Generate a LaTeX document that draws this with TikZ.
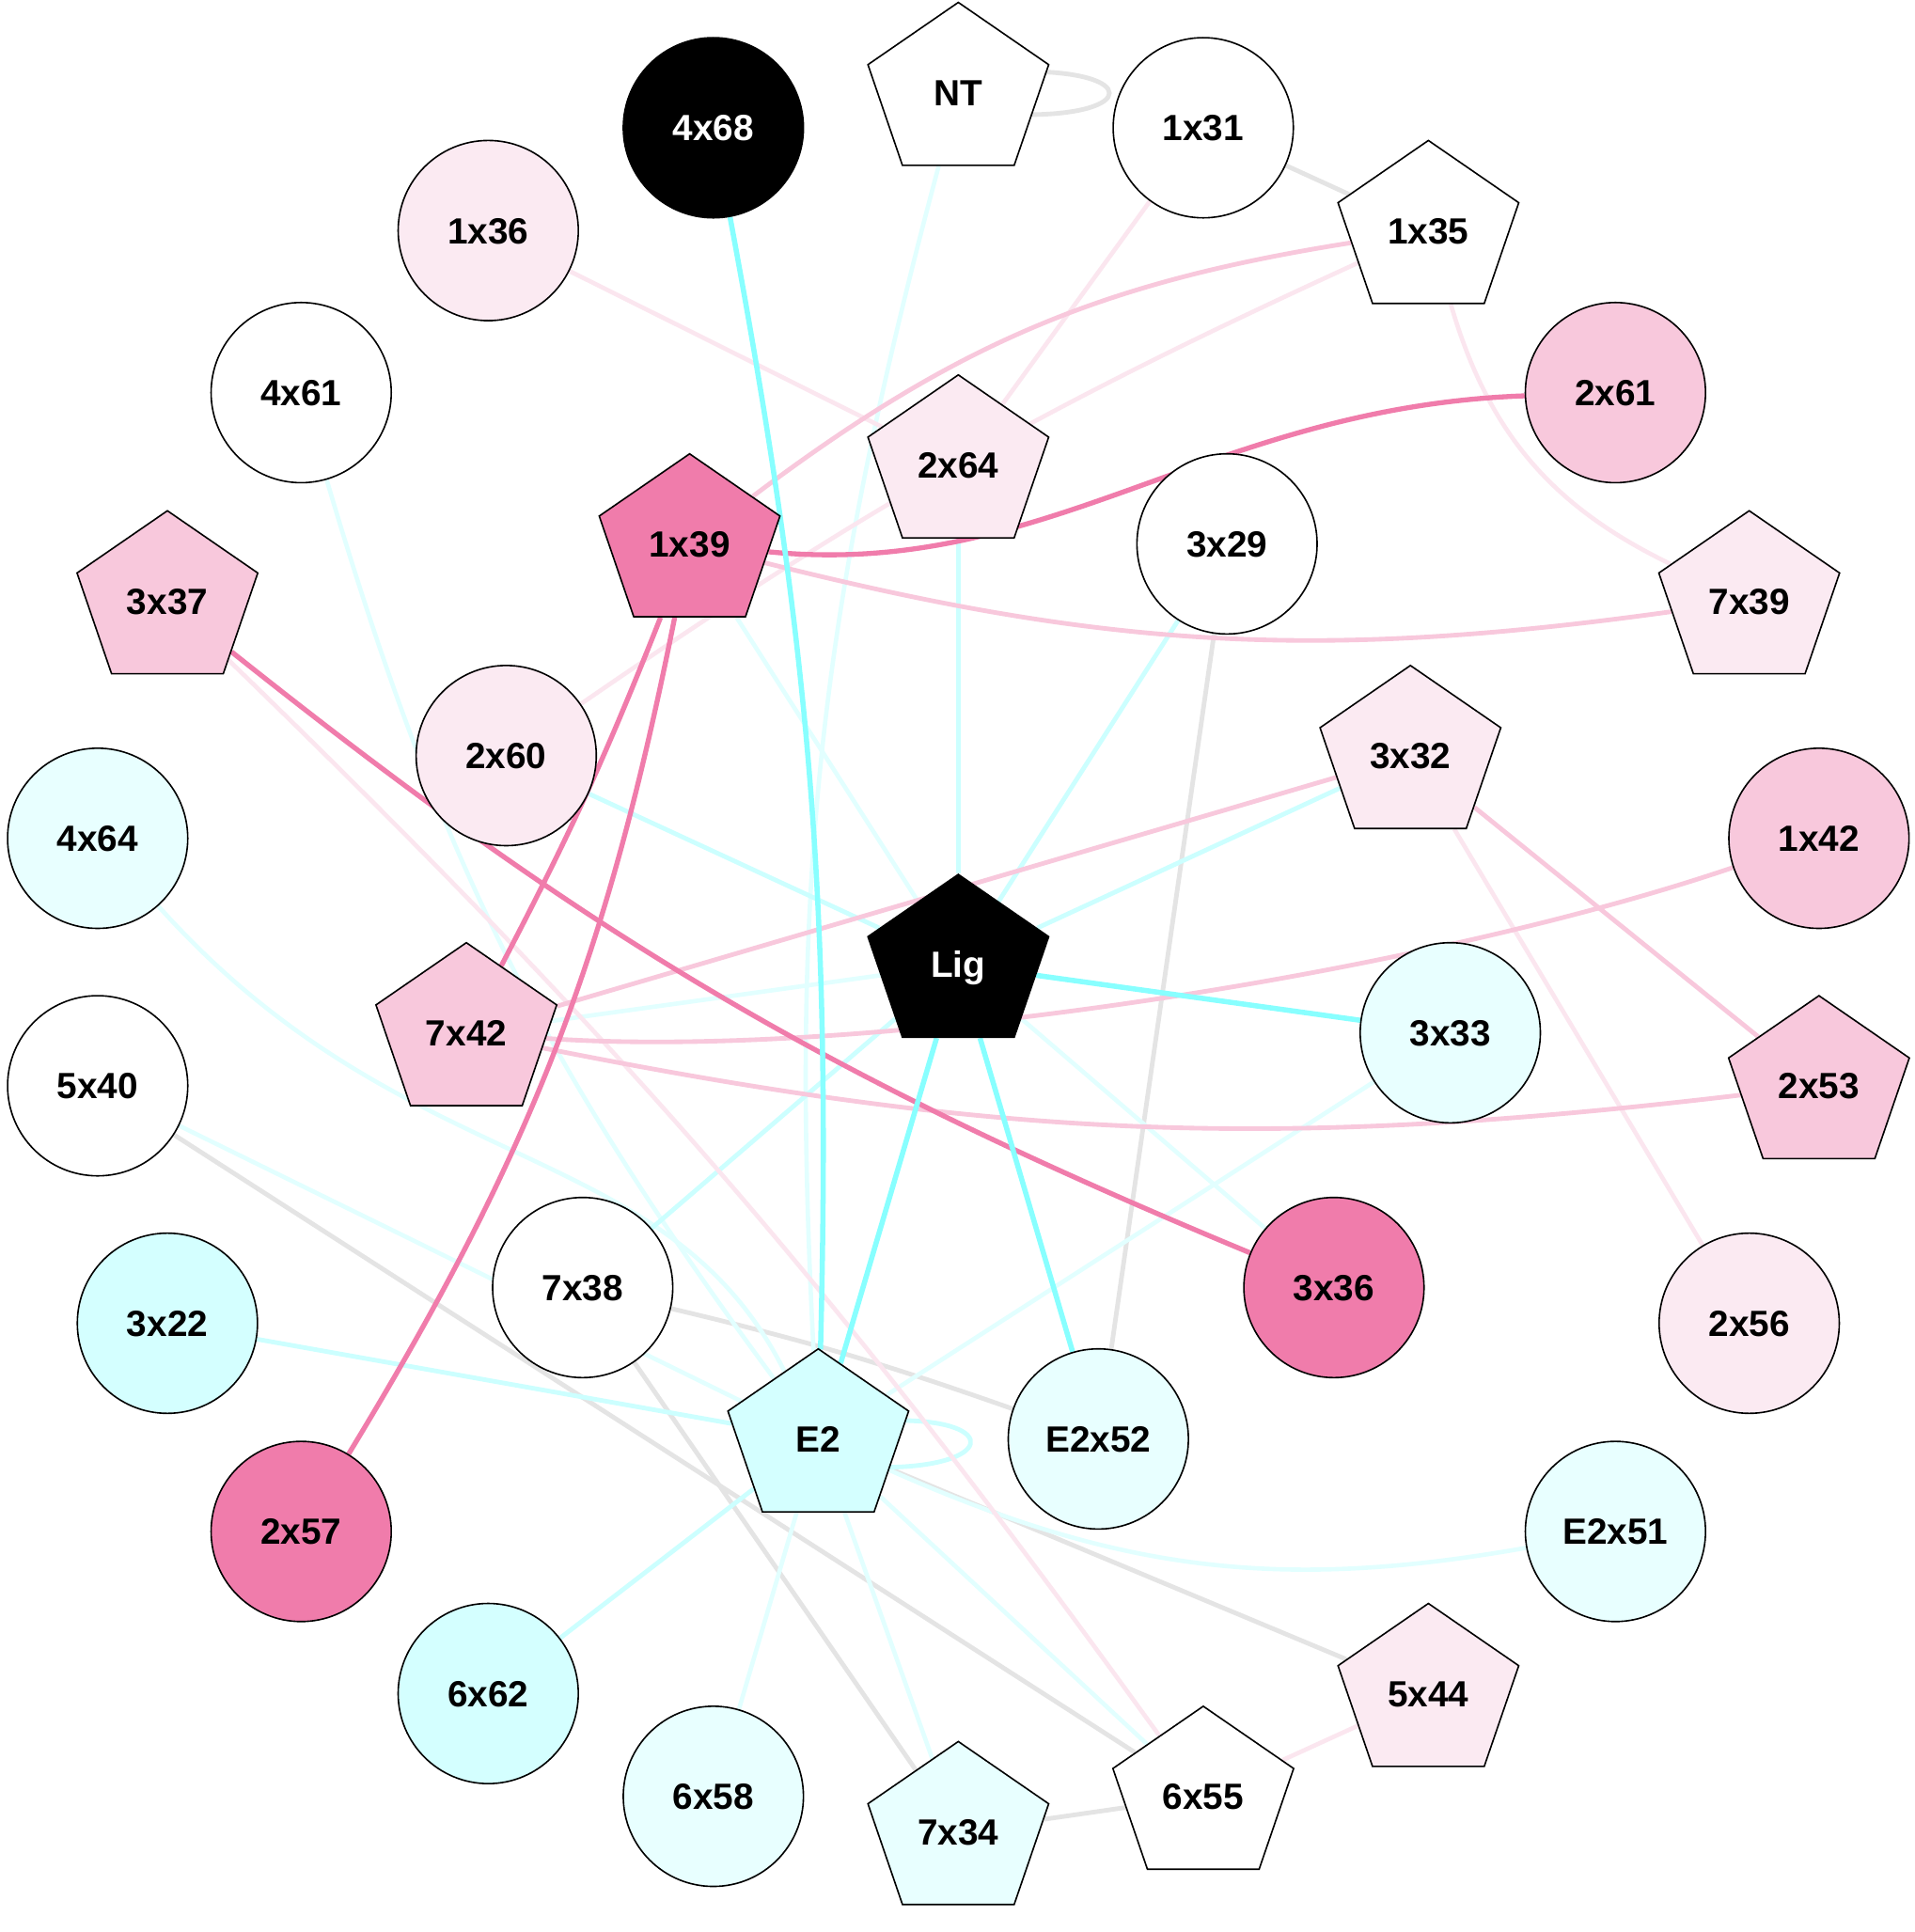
\documentclass[tikz,border=0pt]{standalone}
\usepackage{fontspec}
\setmainfont{Liberation Sans}
\usetikzlibrary{shapes.geometric,backgrounds}
\definecolor{hotpink}{HTML}{F07CAB}
\definecolor{pinkB}{HTML}{F8C8DC}
\definecolor{pinkL}{HTML}{FBEAF2}
\definecolor{cyanB}{HTML}{D4FFFF}
\definecolor{cyanL}{HTML}{E8FFFF}
\definecolor{ecS}{HTML}{88FFFF}
\definecolor{ecM}{HTML}{CCFFFF}
\definecolor{ecL}{HTML}{E2FFFF}
\definecolor{egray}{HTML}{E4E4E4}
\definecolor{epH}{HTML}{F07CAB}
\definecolor{epM}{HTML}{F8C8DC}
\definecolor{epL}{HTML}{FBE6EF}
\newcommand{\lblfont}{\bfseries\fontsize{8.4}{10}\selectfont}
\tikzset{
  cnode/.style={circle, draw=black, line width=0.35pt, minimum size=1.46cm, inner sep=0pt},
  pnode/.style={regular polygon, regular polygon sides=5, draw=black, line width=0.35pt, minimum size=1.54cm, inner sep=0pt, yscale=0.948},
  lbl/.style={font=\lblfont, inner sep=0pt, anchor=base, yshift=-0.106cm},
  eS/.style={draw=ecS, line width=1.2pt},
  eM/.style={draw=ecM, line width=1.05pt},
  eL/.style={draw=ecL, line width=1.0pt},
  eG/.style={draw=egray, line width=1.05pt},
  pH/.style={draw=epH, line width=1.15pt},
  pM/.style={draw=epM, line width=1.05pt},
  pL/.style={draw=epL, line width=1.0pt}
}
\newcommand{\circN}[4]{\node[cnode, fill=#3] (#1) at #2 {}; \node[lbl] at (#1.center) {#4};}
\newcommand{\pentN}[4]{\begin{scope}[shift={#2}]\node[pnode, fill=#3] (#1) at (0,0) {};\end{scope}\node[lbl] at (#1.center) {#4};}
\begin{document}
\begin{tikzpicture}[x=0.01cm, y=0.01cm]
\useasboundingbox (-777,-786.4) rectangle (775,780);
% outer ring
\pentN{nNT}{(90:705)}{white}{NT}
\circN{n4x68}{({90+1*360/22}:705)}{black}{\textcolor{white}{4x68}}
\circN{n1x36}{({90+2*360/22}:705)}{pinkL}{1x36}
\circN{n4x61}{({90+3*360/22}:705)}{white}{4x61}
\pentN{n3x37}{({90+4*360/22}:705)}{pinkB}{3x37}
\circN{n4x64}{({90+5*360/22}:705)}{cyanL}{4x64}
\circN{n5x40}{({90+6*360/22}:705)}{white}{5x40}
\circN{n3x22}{({90+7*360/22}:705)}{cyanB}{3x22}
\circN{n2x57}{({90+8*360/22}:705)}{hotpink}{2x57}
\circN{n6x62}{({90+9*360/22}:705)}{cyanB}{6x62}
\circN{n6x58}{({90+10*360/22}:705)}{cyanL}{6x58}
\pentN{n7x34}{({90+11*360/22}:705)}{cyanL}{7x34}
\pentN{n6x55}{({90+12*360/22}:705)}{white}{6x55}
\pentN{n5x44}{({90+13*360/22}:705)}{pinkL}{5x44}
\circN{nE2x51}{({90+14*360/22}:705)}{cyanL}{E2x51}
\circN{n2x56}{({90+15*360/22}:705)}{pinkL}{2x56}
\pentN{n2x53}{({90+16*360/22}:705)}{pinkB}{2x53}
\circN{n1x42}{({90+17*360/22}:705)}{pinkB}{1x42}
\pentN{n7x39}{({90+18*360/22}:705)}{pinkL}{7x39}
\circN{n2x61}{({90+19*360/22}:705)}{pinkB}{2x61}
\pentN{n1x35}{({90+20*360/22}:705)}{white}{1x35}
\circN{n1x31}{({90+21*360/22}:705)}{white}{1x31}
% inner ring
\pentN{n2x64}{(90:403)}{pinkL}{2x64}
\pentN{n1x39}{({90+1*360/11}:403)}{hotpink}{1x39}
\circN{n2x60}{({90+2*360/11}:403)}{pinkL}{2x60}
\pentN{n7x42}{({90+3*360/11}:403)}{pinkB}{7x42}
\circN{n7x38}{({90+4*360/11}:403)}{white}{7x38}
\pentN{nE2}{({90+5*360/11}:403)}{cyanB}{E2}
\circN{nE2x52}{({90+6*360/11}:403)}{cyanL}{E2x52}
\circN{n3x36}{({90+7*360/11}:403)}{hotpink}{3x36}
\circN{n3x33}{({90+8*360/11}:403)}{cyanL}{3x33}
\pentN{n3x32}{({90+9*360/11}:403)}{pinkL}{3x32}
\circN{n3x29}{({90+10*360/11}:403)}{white}{3x29}
% centre
\pentN{nLig}{(0,-2)}{black}{\textcolor{white}{Lig}}

\begin{pgfonlayer}{background}
\fill[white] (-777,-786.4) rectangle (775,780);
% gray
\draw[eG] ([shift={(55,17)}]nNT.center) .. controls +(90,0) and +(90,0) .. ([shift={(55,-18)}]nNT.center);
\draw[eG] (n1x31) -- (n1x35);
\draw[eG] (n3x29) -- (nE2x52);
\draw[eG] (n5x40) -- (n6x55);
\draw[eG] (n7x38) to[bend left=3] (nE2x52);
\draw[eG] (n7x38) -- (n7x34);
\draw[eG] (nE2) -- (n5x44);
\draw[eG] (n6x55) -- (n7x34);
% light cyan
\draw[eL] (nNT) to[bend right=9] (nE2);
\draw[eL] (n1x39) -- (nLig);
\draw[eL] (nLig) -- (n7x42);
\draw[eL] (nLig) -- (n3x36);
\draw[eL] (n4x61) to[bend right=10] (nE2);
\draw[eL] (n4x64) .. controls (-447,-180) and (-237,-140) .. (nE2);
\draw[eL] (n5x40) -- (nE2);
\draw[eL] (n6x58) -- (nE2);
\draw[eL] (n7x34) -- (nE2);
\draw[eL] (n6x55) -- (nE2);
\draw[eL] (nE2) to[bend right=17] (nE2x51);
\draw[eL] (n3x33) -- (nE2);
% medium cyan
\draw[eM] (n2x64) -- (nLig);
\draw[eM] (n2x60) -- (nLig);
\draw[eM] (n3x29) -- (nLig);
\draw[eM] (n3x32) -- (nLig);
\draw[eM] (n7x38) -- (nLig);
\draw[eM] (n3x22) -- (nE2);
\draw[eM] (n6x62) -- (nE2);
\draw[eM] ([shift={(65,15)}]nE2.center) .. controls +(83,0) and +(90,0) .. ([shift={(52,-23)}]nE2.center);
% light pink
\draw[pL] (n1x31) -- (n2x64);
\draw[pL] (n1x36) -- (n2x64);
\draw[pL] (n1x35) to[bend right=5] (n2x60);
\draw[pL] (n1x35) to[bend right=24] (n7x39);
\draw[pL] (n3x37) to[bend left=5] (n6x55);
\draw[pL] (n3x32) -- (n2x56);
\draw[pL] (n6x55) -- (n5x44);
% pink
\draw[pM] (n1x35) to[bend right=14] (n1x39);
\draw[pM] (n1x39) to[bend right=11] (n7x39);
\draw[pM] (n3x32) -- (n7x42);
\draw[pM] (n3x32) -- (n2x53);
\draw[pM] (n1x42) .. controls (373,-10) and (-77,-80) .. (n7x42);
\draw[pM] (n7x42) to[bend right=9] (n2x53);
% hot pink
\draw[pH] (n2x61) .. controls (203,450) and (73,310) .. (n1x39);
\draw[pH] (n1x39) to[bend left=3] (n7x42);
\draw[pH] (n1x39) to[bend left=10] (n2x57);
\draw[pH] (n3x37) to[bend right=8] (n3x36);
% strong cyan
\draw[eS] (n4x68) to[bend left=6] (nE2);
\draw[eS] (nLig) -- (n3x33);
\draw[eS] (nLig) -- (nE2);
\draw[eS] (nLig) -- (nE2x52);
\end{pgfonlayer}
\end{tikzpicture}
\end{document}
